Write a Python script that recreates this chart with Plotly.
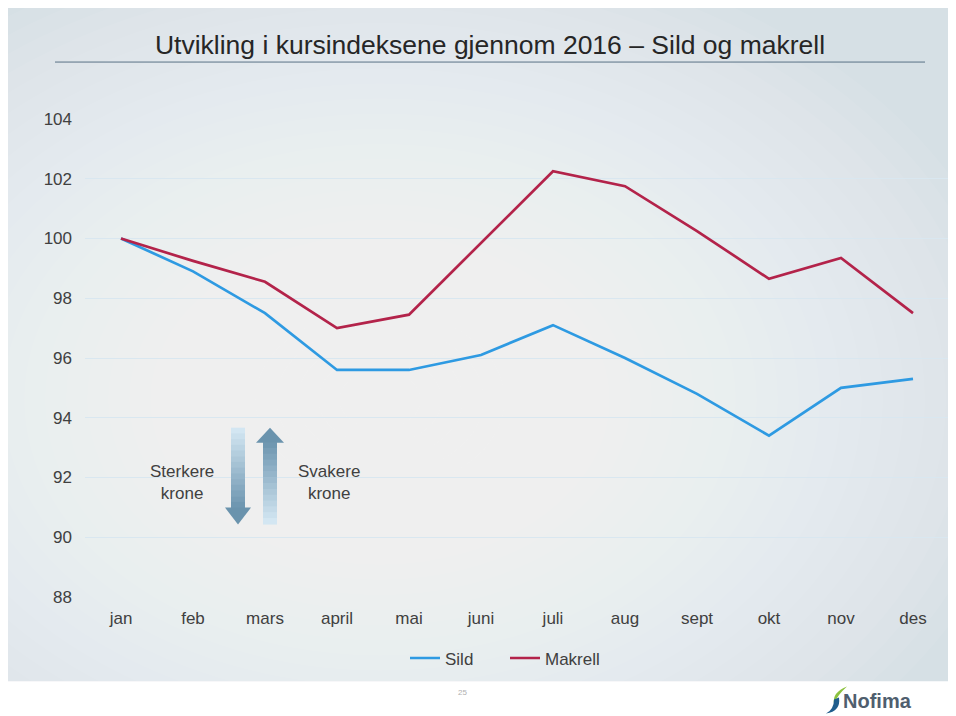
import plotly.graph_objects as go

# ---------------- data ----------------
months = ["jan", "feb", "mars", "april", "mai", "juni", "juli", "aug", "sept", "okt", "nov", "des"]
sild = [100.0, 98.9, 97.5, 95.6, 95.6, 96.1, 97.1, 96.0, 94.8, 93.4, 95.0, 95.3]
makrell = [100.0, 99.25, 98.55, 97.0, 97.45, 99.85, 102.25, 101.75, 100.25, 98.65, 99.35, 97.5]
y_ticks = [88, 90, 92, 94, 96, 98, 100, 102, 104]

title_text = "Utvikling i kursindeksene gjennom 2016 \u2013 Sild og makrell"

# ---------------- geometry helpers ----------------
# page body has an 8px margin, so the figure is drawn 8px in from the top-left
OFF = 8
W, H = 956 - OFF, 716 - OFF
L, R, T, B = 85 - OFF, 7, 119 - OFF, 118.5
PW = W - L - R
PH = H - T - B


def px(x):  # reference page pixel -> paper coordinate
    return (x - OFF - L) / PW


def py(y):
    return (H - B - (y - OFF)) / PH


SANS = "Liberation Sans, Arial, sans-serif"
TXT = "#404040"

fig = go.Figure()

fig.add_trace(go.Scatter(x=months, y=sild, mode="lines", name="Sild",
                         line=dict(color="#2e9ae2", width=2.7)))
fig.add_trace(go.Scatter(x=months, y=makrell, mode="lines", name="Makrell",
                         line=dict(color="#b3234a", width=2.7)))

shapes = []
# slide background
shapes.append(dict(type="rect", xref="paper", yref="paper", layer="below",
                   x0=px(0), x1=px(970), y0=py(682), y1=py(0),
                   fillcolor="#d6e0e5", line=dict(width=0)))
# radial light centre made of many faint ellipses
cx, cy = 380, 400
n = 30
for i in range(n):
    rx = 650 - i * 21
    ry = rx * 0.72
    shapes.append(dict(type="circle", xref="paper", yref="paper", layer="below",
                       x0=px(cx - rx), x1=px(cx + rx), y0=py(cy + ry), y1=py(cy - ry),
                       fillcolor="rgba(255,255,255,0.06)", line=dict(width=0)))
# white footer strip
shapes.append(dict(type="rect", xref="paper", yref="paper", layer="below",
                   x0=px(-20), x1=px(980), y0=py(740), y1=py(682),
                   fillcolor="white", line=dict(width=0)))

# title underline
shapes.append(dict(type="line", xref="paper", yref="paper",
                   x0=px(55), x1=px(925), y0=py(62), y1=py(62),
                   line=dict(color="#5a7286", width=1)))


def lerp_col(c1, c2, t):
    a = [int(c1[i:i + 2], 16) for i in (1, 3, 5)]
    b = [int(c2[i:i + 2], 16) for i in (1, 3, 5)]
    return "#%02x%02x%02x" % tuple(int(round(a[k] + (b[k] - a[k]) * t)) for k in range(3))


light, dark = "#d3e6f2", "#6f97b1"
seg = 14
# down arrow (Sterkere krone)
y0s, y1s = 428, 508
for i in range(seg):
    ya = y0s + (y1s - y0s) * i / seg
    yb = y0s + (y1s - y0s) * (i + 1) / seg + 0.6
    shapes.append(dict(type="rect", xref="paper", yref="paper",
                       x0=px(231), x1=px(245), y0=py(yb), y1=py(ya),
                       fillcolor=lerp_col(light, dark, i / (seg - 1)), line=dict(width=0)))
shapes.append(dict(type="path", xref="paper", yref="paper",
                   path="M %f,%f L %f,%f L %f,%f Z" % (px(225), py(508), px(251), py(508), px(238), py(525)),
                   fillcolor="#6a93ad", line=dict(width=0)))
# up arrow (Svakere krone)
y0s, y1s = 443, 525
for i in range(seg):
    ya = y0s + (y1s - y0s) * i / seg - 0.6
    yb = y0s + (y1s - y0s) * (i + 1) / seg
    shapes.append(dict(type="rect", xref="paper", yref="paper",
                       x0=px(263), x1=px(277), y0=py(yb), y1=py(ya),
                       fillcolor=lerp_col(dark, light, i / (seg - 1)), line=dict(width=0)))
shapes.append(dict(type="path", xref="paper", yref="paper",
                   path="M %f,%f L %f,%f L %f,%f Z" % (px(256), py(443), px(284), py(443), px(270), py(428)),
                   fillcolor="#6a93ad", line=dict(width=0)))

# Nofima swoosh
shapes.append(dict(type="path", xref="paper", yref="paper",
                   path="M %f,%f Q %f,%f %f,%f Q %f,%f %f,%f Z" % (
                       px(847), py(687), px(832), py(693), px(834), py(704),
                       px(838), py(695), px(847), py(687)),
                   fillcolor="#8cc23f", line=dict(width=0)))
shapes.append(dict(type="path", xref="paper", yref="paper",
                   path="M %f,%f Q %f,%f %f,%f Q %f,%f %f,%f Z" % (
                       px(834), py(700), px(834), py(710), px(826), py(714),
                       px(841), py(712), px(839), py(698)),
                   fillcolor="#1f5d8c", line=dict(width=0)))

annotations = [
    dict(text="Sterkere<br>krone", xref="paper", yref="paper", x=px(182), y=py(483),
         xanchor="center", yanchor="middle",
         showarrow=False, font=dict(family=SANS, size=17, color=TXT), align="center"),
    dict(text="Svakere<br>krone", xref="paper", yref="paper", x=px(329), y=py(483),
         xanchor="center", yanchor="middle",
         showarrow=False, font=dict(family=SANS, size=17, color=TXT), align="center"),
    dict(text="25", xref="paper", yref="paper", x=px(462), y=py(693),
         xanchor="center", yanchor="middle",
         showarrow=False, font=dict(family=SANS, size=8, color="#b0b0b0")),
    dict(text="<b>Nofima</b>", xref="paper", yref="paper", x=px(877), y=py(702),
         xanchor="center", yanchor="middle",
         showarrow=False, font=dict(family=SANS, size=20, color="#4f5e6e")),
]

fig.update_layout(
    width=W, height=H,
    margin=dict(l=L, r=R, t=T, b=B),
    paper_bgcolor="white",
    plot_bgcolor="rgba(0,0,0,0)",
    title=dict(text=title_text, xref="container", yref="container",
               x=(490 - OFF) / W, y=1 - (45 - OFF) / H, xanchor="center", yanchor="middle",
               font=dict(family=SANS, size=26.5, color="#262626")),
    shapes=shapes,
    annotations=annotations,
    showlegend=True,
    legend=dict(orientation="h", xref="paper", yref="paper",
                x=px(505), y=py(659), xanchor="center", yanchor="middle",
                bgcolor="rgba(0,0,0,0)", font=dict(family=SANS, size=17, color=TXT),
                itemwidth=30, tracegroupgap=0, entrywidth=55, entrywidthmode="pixels"),
    xaxis=dict(type="category", range=[-0.5, 11.5], showgrid=False, zeroline=False,
               showline=False, ticks="", tickfont=dict(family=SANS, size=17, color=TXT),
               ticklabelstandoff=9, fixedrange=True),
    yaxis=dict(range=[88, 104], tickvals=y_ticks, showgrid=True, gridcolor="#d9e7f0",
               gridwidth=1, zeroline=False, showline=False, ticks="",
               tickfont=dict(family=SANS, size=17, color=TXT),
               ticklabelstandoff=12, fixedrange=True),
)

fig.write_html("out.html")
